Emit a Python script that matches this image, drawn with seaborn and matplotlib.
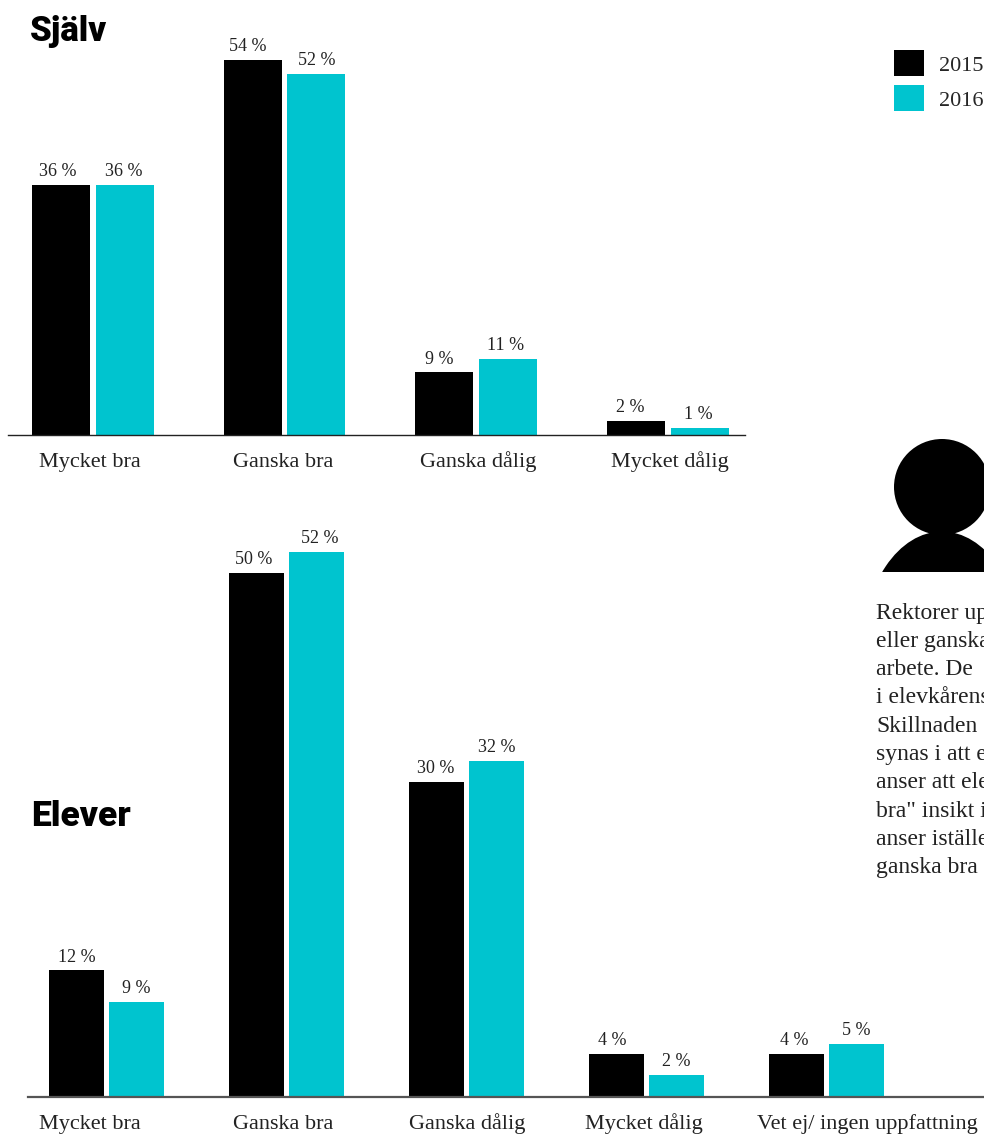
import matplotlib
matplotlib.use("Agg")
import matplotlib.pyplot as plt
from matplotlib.patches import Circle, Ellipse, Rectangle
import seaborn as sns
import pandas as pd

W, H = 984, 1135
BLACK = "#000000"
TEAL = "#00c4cf"
SERIF = "Liberation Serif"

years = ["2015", "2016"]

sjalv_cats = ["Mycket bra", "Ganska bra", "Ganska dålig", "Mycket dålig"]
sjalv_2015 = [36, 54, 9, 2]
sjalv_2016 = [36, 52, 11, 1]

elever_cats = ["Mycket bra", "Ganska bra", "Ganska dålig", "Mycket dålig", "Vet ej/ ingen uppfattning"]
elever_2015 = [12, 50, 30, 4, 4]
elever_2016 = [9, 52, 32, 2, 5]

body_lines = ["Rektorer up", "eller ganska", "arbete. De", "i elevkårens", "Skillnaden",
              "synas i att e", "anser att ele", "bra\" insikt i", "anser iställe", "ganska bra"]


def long_table(cats, v15, v16):
    return pd.DataFrame({
        "kat": cats * 2,
        "ar": [years[0]] * len(cats) + [years[1]] * len(cats),
        "andel": v15 + v16,
    })


def axes_px(left, right, top, bottom):
    return fig.add_axes([left / W, 1 - bottom / H, (right - left) / W, (bottom - top) / H])


def draw_bars(ax, df, width, gap, nudges, legend=False):
    sns.barplot(data=df, x="kat", y="andel", hue="ar", palette=[BLACK, TEAL], width=width, gap=gap,
                saturation=1, linewidth=0, legend=legend, ax=ax)
    for cont, shift in zip(ax.containers, nudges):
        labs = ax.bar_label(cont, labels=[f"{v:.0f} %" for v in cont.datavalues], padding=3.4,
                            fontsize=13, family=SERIF, color="#222222")
        # etiketterna sitter inte riktigt mitt över staplarna i originalet
        for lab, dx in zip(labs, shift):
            lab.xyann = (dx * 0.72, 3.4)
    ax.set_xlabel("")
    ax.set_ylabel("")
    ax.set_yticks([])
    ax.patch.set_alpha(0)
    sns.despine(ax=ax, left=True)
    ax.tick_params(axis="x", length=0, labelsize=16, labelcolor="#222222")


def style_ticks(ax, pad):
    ax.tick_params(axis="x", pad=pad)
    for lab in ax.get_xticklabels():
        lab.set_family(SERIF)
        lab.set_verticalalignment("baseline")


sns.set_theme(style="white")
fig = plt.figure(figsize=(W / 100, H / 100), dpi=100, facecolor="white")

# Själv
ax1 = axes_px(8, 745, 18, 435)
draw_bars(ax1, long_table(sjalv_cats, sjalv_2015, sjalv_2016), 0.665, 0.09,
          [[-3, -5, -5, -6], [-1, 0, -3, -2]], legend=True)
ax1.set_xlim(-0.4415, 3.4015)
ax1.set_ylim(0, 60)
ax1.spines["bottom"].set_linewidth(1.0)
ax1.spines["bottom"].set_color("#222222")
ax1.set_xticks([-0.013, 0.995, 2.01, 3.01], labels=sjalv_cats)
style_ticks(ax1, 23)
sns.move_legend(ax1, "upper left", bbox_to_anchor=(874 / W, 1 - 30.5 / H), bbox_transform=fig.transFigure,
                frameon=False, title=None, handlelength=1.36, handleheight=1.42, handletextpad=0.65,
                labelspacing=0.4, prop={"family": SERIF, "size": 16})

# Elever
ax2 = axes_px(28, W, 468, 1096)
draw_bars(ax2, long_table(elever_cats, elever_2015, elever_2016), 0.667, 0.083,
          [[0, -3, -1, -4, -2], [0, 3, 0, 0, 0]])
ax2.set_xlim(-0.436, 4.875)
ax2.set_ylim(0, 60)
ax2.spines["bottom"].set_linewidth(1.6)
ax2.spines["bottom"].set_color("#555555")
ax2.spines["bottom"].set_position(("outward", 0.7))
ax2.set_xticks([-0.09, 0.98, 2.006, 2.986, 4.225], labels=elever_cats)
style_ticks(ax2, 23)

# rubriker, ikon och brödtext ritas i pixelkoordinater
bg = fig.add_axes([0, 0, 1, 1], zorder=-1)
bg.set_xlim(0, W)
bg.set_ylim(H, 0)
bg.axis("off")
bg.text(30, 41, "Själv", fontsize=25, fontweight="black", family="Roboto", color="black")
bg.text(31, 826, "Elever", fontsize=25.5, fontweight="black", family="Roboto", color="black")

clip = Rectangle((860, 500), 140, 72, transform=bg.transData)
shoulders = Ellipse((942, 650), 159, 237, color="black", lw=0)
bg.add_patch(shoulders)
shoulders.set_clip_path(clip)
bg.add_patch(Circle((942, 487), 48, color="black", lw=0))

for i, line in enumerate(body_lines):
    bg.text(876, 618.5 + i * 28.3, line, fontsize=17, family=SERIF, color="#222222")

fig.savefig("out.png", dpi=100)
